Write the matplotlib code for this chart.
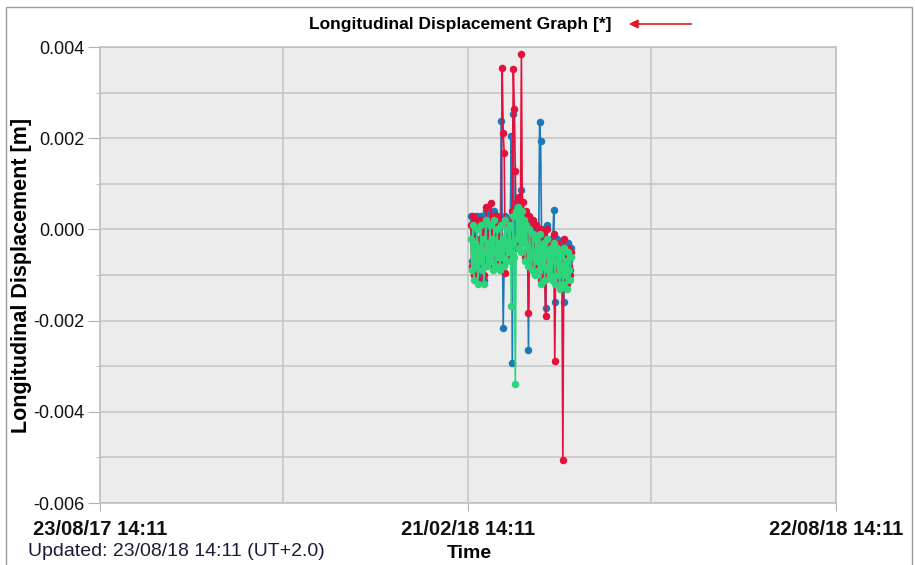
import matplotlib
matplotlib.use("Agg")
import matplotlib.pyplot as plt
import matplotlib.dates as mdates
from matplotlib.patches import Rectangle, FancyArrowPatch
import pandas as pd

plt.rcParams["font.family"] = ["Liberation Sans", "DejaVu Sans"]

# displacement readings in mm, sampled every 12 h from 2018-02-23
start = "2018-02-23 00:00"
blue_mm = [
    0.3, -0.7, 0.2, -0.9, 0.0, -0.6, 0.3, -1.0, -0.2, -0.5,
    0.3, -0.8, 0.0, -1.1, -0.3, 0.4, -0.6, 0.0, -0.4, 0.3,
    -0.5, 0.1, -0.7, 0.4, -0.3, -0.6, 0.2, -0.4, 0.0, -0.7,
    2.38, 0.2, -2.16, -0.6, 0.3, -0.2, -0.5, 0.2, -0.3, 0.1,
    2.05, -2.93, 2.53, -0.2, 0.5, -0.4, 0.6, -0.1, 0.7, -0.2,
    0.86, -0.3, 0.4, -0.1, -0.5, 0.3, -0.2, -2.64, 0.2, -0.4,
    -0.7, 0.1, -0.3, -0.8, 0.0, -0.5, -0.1, -0.7, 2.35, 1.94,
    -0.2, -0.6, 0.0, -0.9, -1.72, 0.1, -0.7, -0.4, -0.8, -0.2,
    -0.9, -0.3, 0.43, -1.6, -0.5, -0.2, -0.8, -0.4, -1.1, -0.3,
    -0.6, -1.0, -1.6, -0.8, -0.5, -1.1, -0.3, -0.7, -0.9, -0.4,
]
red_mm = [
    0.1, -0.8, 0.3, -1.0, -0.2, -0.7, 0.2, -1.1, -0.3, -0.6,
    0.2, -0.7, 0.1, -1.0, -0.4, 0.5, -0.7, -0.1, -0.5, 0.2,
    0.58, -0.1, -0.8, 0.3, -0.4, -0.7, 0.3, -0.5, -0.1, -0.8,
    0.2, 3.55, 2.11, 1.68, -0.96, -0.3, -0.6, 0.1, -0.4, 0.2,
    -0.3, 0.4, 3.52, 2.64, 1.28, -0.2, 0.6, -0.3, 0.71, 0.0,
    3.85, -0.2, 0.6, -0.1, -0.6, 0.4, -0.3, -1.83, 0.3, -0.5,
    -0.8, 0.2, -0.4, -0.9, 0.1, -0.6, -0.2, -0.8, 0.0, -1.1,
    -0.3, -0.7, -0.1, -1.0, -1.9, 0.0, -0.8, -0.5, -0.9, -0.3,
    -1.0, -0.4, -0.1, -2.89, -0.6, -0.3, -0.9, -0.5, -1.2, -0.4,
    -0.7, -5.05, -0.2, -0.9, -0.6, -1.2, -0.4, -0.8, -1.0, -0.5,
]
green_mm = [
    -0.2, -0.9, 0.1, -1.1, -0.3, -0.8, 0.0, -1.2, -0.4, -0.7,
    0.1, -0.9, -0.2, -1.2, -0.5, 0.2, -0.8, -0.3, -0.6, 0.1,
    -0.7, -0.2, -0.9, 0.2, -0.5, -0.8, 0.0, -0.6, -0.3, -0.9,
    0.1, -0.6, -0.2, -0.8, 0.2, -0.4, -0.7, 0.0, -0.5, 0.1,
    -1.68, -0.3, 0.3, -0.6, -3.39, 0.4, -0.2, 0.5, -0.4, 0.3,
    -0.5, 0.4, -0.3, 0.2, -0.7, 0.1, -0.4, -0.8, 0.0, -0.6,
    -0.9, -0.1, -0.5, -1.0, -0.2, -0.7, -0.3, -0.9, -0.1, -1.2,
    -0.4, -0.8, -0.3, -1.1, -0.5, -0.2, -0.9, -0.6, -1.0, -0.4,
    -1.1, -0.5, -0.3, -1.2, -0.7, -0.4, -1.0, -0.6, -1.3, -0.5,
    -0.8, -1.2, -0.4, -1.0, -0.7, -1.3, -0.5, -0.9, -1.1, -0.6,
]

x_start = pd.Timestamp("2017-08-23 14:11")
x_end = pd.Timestamp("2018-08-22 14:11")
major_ticks = [pd.Timestamp("2017-08-23 14:11"), pd.Timestamp("2018-02-21 14:11"),
               pd.Timestamp("2018-08-22 14:11")]
minor_ticks = [pd.Timestamp("2017-11-22 02:11"), pd.Timestamp("2018-05-23 02:11")]

times = pd.date_range(start, periods=len(green_mm), freq="12h")

fig = plt.figure(figsize=(9.15, 5.65), dpi=100)
ax = fig.add_axes([100 / 915, 62 / 565, 736 / 915, 456 / 565])
ax.set_facecolor("#ececec")

series = [(blue_mm, "#1a7ab8"), (red_mm, "#e5103c"), (green_mm, "#2ed47c")]
for vals, col in series:
    ax.plot(times, [v / 1000 for v in vals], color=col, lw=1.2,
            marker="o", ms=4.4, mec=col, mfc=col, zorder=3)

ax.set_xlim(x_start, x_end)
ax.set_ylim(-0.006, 0.004)
ax.set_xticks(major_ticks)
ax.set_xticks(minor_ticks, minor=True)
ax.xaxis.set_major_formatter(mdates.DateFormatter("%d/%m/%y %H:%M"))
ax.set_yticks([-0.006, -0.004, -0.002, 0.0, 0.002, 0.004])
ax.set_yticks([-0.005, -0.003, -0.001, 0.001, 0.003], minor=True)
ax.yaxis.set_major_formatter(plt.FuncFormatter(lambda v, p: f"{v:.3f}"))

ax.grid(True, which="both", color="#c6c6c6", lw=1.2)
ax.set_axisbelow(True)
for s in ax.spines.values():
    s.set_color("#c0c0c0")
    s.set_linewidth(1.2)

ax.tick_params(axis="y", which="major", length=9, color="#b0b0b0", labelsize=13,
               labelcolor="#111111", pad=2)
ax.tick_params(axis="y", which="minor", length=3, color="#b0b0b0")
ax.tick_params(axis="x", which="major", length=6, color="#b0b0b0", labelsize=14.5,
               labelcolor="#111111", pad=6)
ax.tick_params(axis="x", which="minor", length=0)
for lab in ax.get_xticklabels():
    lab.set_fontweight("bold")

ax.set_ylabel("Longitudinal Displacement [m]", fontsize=15.5, fontweight="bold")
ax.yaxis.set_label_coords(-68 / 736, 0.5)

fig.text(460 / 915, 1 - 24 / 565, "Longitudinal Displacement Graph [*]",
         ha="center", va="center", fontsize=12.5, fontweight="bold")
fig.patches.append(FancyArrowPatch(
    (694 / 915, 1 - 24 / 565), (626 / 915, 1 - 24 / 565), transform=fig.transFigure,
    arrowstyle="-|>", mutation_scale=13, color="#e8141e", lw=1.2))

fig.text(28 / 915, 1 - 552 / 565, "Updated: 23/08/18 14:11 (UT+2.0)",
         ha="left", va="center", fontsize=14, color="#1c1c3a")
fig.text(469 / 915, 1 - 553 / 565, "Time", ha="center", va="center",
         fontsize=14, fontweight="bold")

fig.patches.append(Rectangle((6 / 915, -0.01), 906 / 915, 1 - 7 / 565 + 0.01,
                             transform=fig.transFigure, fill=False,
                             edgecolor="#9a9a9a", lw=1.0))

fig.savefig("out.png", dpi=100)
